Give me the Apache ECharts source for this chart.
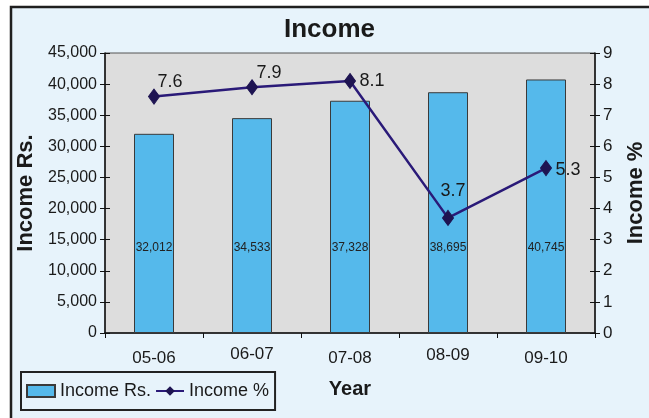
<!DOCTYPE html>
<html>
<head>
<meta charset="utf-8">
<script src="https://cdn.jsdelivr.net/npm/echarts@6/dist/echarts.min.js"></script>
<style>html,body{margin:0;padding:0;background:#fff}#c{width:649px;height:418px}</style>
</head>
<body>
<div id="c"></div>
<script>
var years = ['05-06', '06-07', '07-08', '08-09', '09-10'];
var incomeRs = [32012, 34533, 37328, 38695, 40745];
var incomePct = [7.6, 7.9, 8.1, 3.7, 5.3];
var leftTicks = { min: 0, max: 45000, interval: 5000 };
var rightTicks = { min: 0, max: 9, interval: 1 };

var pctLabelOffsets = [[16, -15], [17, -14], [22, 0], [5, -27], [22, 2]];
var xLabelStyles = ['a', 'b', 'a', 'c', 'a'];

var FONT = "'Liberation Sans', Arial, sans-serif";
var chart = echarts.init(document.getElementById('c'), null, { renderer: 'canvas' });

var pctData = incomePct.map(function (v, i) {
  return { value: v, label: { offset: pctLabelOffsets[i] } };
});

function innerTickAxis(range, pos) {
  return {
    type: 'value', min: range.min, max: range.max, interval: range.interval,
    position: pos,
    axisLine: { show: false },
    axisTick: { show: true, inside: true, length: 5, lineStyle: { color: '#111' } },
    axisLabel: { show: false },
    splitLine: { show: false }
  };
}

chart.setOption({
  backgroundColor: '#ffffff',
  animation: false,
  textStyle: { fontFamily: FONT },
  graphic: [{
    type: 'rect', z: -10, silent: true,
    shape: { x: 11, y: 7, width: 700, height: 500 },
    style: { fill: '#e7f3fb', stroke: '#1f1f1f', lineWidth: 2.5 }
  }],
  title: {
    text: 'Income', left: 284, top: 17, padding: 0,
    textStyle: { fontFamily: FONT, fontSize: 26, fontWeight: 'bold', color: '#1a1a1a' }
  },
  legend: {
    left: 21, top: 372, orient: 'horizontal',
    padding: [10, 6, 10, 5], itemGap: 4, itemWidth: 28, itemHeight: 12,
    borderColor: '#222', borderWidth: 2, backgroundColor: 'transparent',
    textStyle: { fontFamily: FONT, fontSize: 18, color: '#1a1a1a' },
    data: [
      { name: 'Income Rs.', icon: 'rect' },
      { name: 'Income %' }
    ]
  },
  grid: {
    left: 105, right: 54, top: 53, bottom: 85,
    containLabel: false, outerBoundsMode: 'none',
    show: true, backgroundColor: '#dddddd', borderColor: '#555', borderWidth: 1
  },
  xAxis: {
    type: 'category', data: years,
    name: 'Year', nameLocation: 'middle', nameGap: 46,
    nameTextStyle: { fontFamily: FONT, fontSize: 20, fontWeight: 'bold', color: '#1a1a1a' },
    axisLine: { lineStyle: { color: '#111', width: 1.5 } },
    axisTick: { show: true, length: 5, lineStyle: { color: '#111' } },
    axisLabel: {
      margin: 13, fontFamily: FONT, fontSize: 17, color: '#1a1a1a',
      formatter: function (v, i) { return '{' + xLabelStyles[i] + '|' + v + '}'; },
      rich: {
        a: { fontSize: 17, fontFamily: FONT, color: '#1a1a1a', padding: [4, 0, 0, 0] },
        b: { fontSize: 17, fontFamily: FONT, color: '#1a1a1a', padding: [0, 0, 0, 0] },
        c: { fontSize: 17, fontFamily: FONT, color: '#1a1a1a', padding: [1, 0, 0, 0] }
      }
    }
  },
  yAxis: [{
    type: 'value', min: leftTicks.min, max: leftTicks.max, interval: leftTicks.interval,
    name: 'Income Rs.', nameLocation: 'middle', nameGap: 61, nameRotate: 90,
    nameTextStyle: { fontFamily: FONT, fontSize: 22, fontWeight: 'bold', color: '#1a1a1a' },
    axisLine: { show: true, lineStyle: { color: '#111', width: 1.5 } },
    axisTick: { show: true, length: 5, lineStyle: { color: '#111' } },
    splitLine: { show: false },
    axisLabel: {
      margin: 8, fontFamily: FONT, fontSize: 16, color: '#1a1a1a',
      formatter: function (v) { return v.toLocaleString('en-US'); }
    }
  }, {
    type: 'value', min: rightTicks.min, max: rightTicks.max, interval: rightTicks.interval,
    position: 'right',
    name: 'Income %', nameLocation: 'middle', nameGap: 30, nameRotate: 90,
    nameTextStyle: { fontFamily: FONT, fontSize: 22, fontWeight: 'bold', color: '#1a1a1a' },
    axisLine: { show: true, lineStyle: { color: '#111', width: 1.5 } },
    axisTick: { show: true, length: 5, lineStyle: { color: '#111' } },
    splitLine: { show: false },
    axisLabel: { margin: 8, fontFamily: FONT, fontSize: 17, color: '#1a1a1a' }
  },
  innerTickAxis(leftTicks, 'left'),
  innerTickAxis(rightTicks, 'right')],
  series: [{
    name: 'Income Rs.', type: 'bar', yAxisIndex: 0, data: incomeRs,
    barWidth: 40,
    itemStyle: { color: '#55b9eb', borderColor: '#3a3a3a', borderWidth: 1 },
    label: {
      show: true, position: 'insideBottom', distance: 79,
      fontFamily: FONT, fontSize: 12, color: '#222',
      formatter: function (p) { return p.value.toLocaleString('en-US'); }
    },
    z: 2
  }, {
    name: 'Income %', type: 'line', yAxisIndex: 1, data: pctData,
    symbol: 'diamond', symbolSize: [11, 15],
    lineStyle: { color: '#2a1a78', width: 2.5 },
    itemStyle: { color: '#1e1452', borderColor: '#1e1452' },
    label: {
      show: true, position: 'inside',
      fontFamily: FONT, fontSize: 18, color: '#1a1a1a'
    },
    z: 3
  }]
});
</script>
</body>
</html>
